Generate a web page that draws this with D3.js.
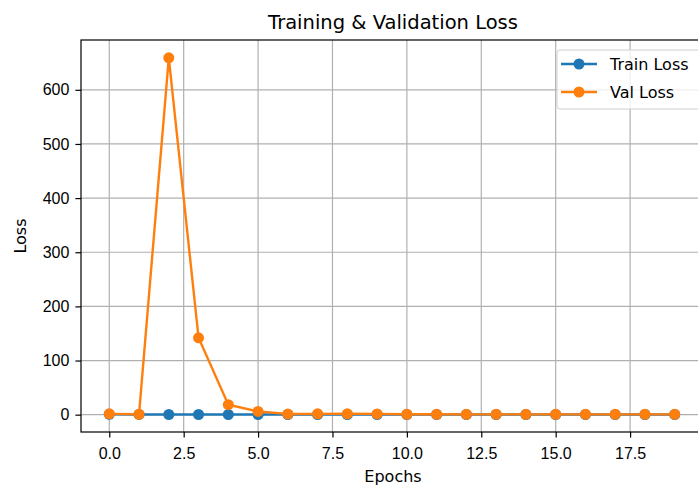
<!DOCTYPE html>
<html lang="en">
<head>
  <meta charset="UTF-8">
  <title>Training & Validation Loss</title>
  <script src="https://d3js.org/d3.v7.min.js"></script>
  <style>
    body {
      margin: 0;
      background: #fff;
      font-family: "DejaVu Sans", sans-serif;
      overflow: hidden;
    }

    .axis text {
      font-size: 16px;
      fill: #000;
    }

    .axis line {
      stroke: #000;
      stroke-width: 1.2;
    }

    .grid line {
      stroke: #b0b0b0;
      stroke-width: 1.2;
    }
  </style>
</head>
<body>
  <svg id="chart" width="698" height="486"></svg>

  <script>
    // epochs and losses
    const epochs = d3.range(20);
    const trainLoss = [0.6, 0.4, 0.3, 0.3, 0.3, 0.3, 0.3, 0.3, 0.3, 0.3,
                       0.3, 0.3, 0.3, 0.3, 0.3, 0.3, 0.3, 0.3, 0.3, 0.3];
    const valLoss = [1.5, 0.8, 659, 142, 18.5, 6, 1.2, 1.5, 1.6, 1.4,
                     0.8, 0.7, 0.6, 0.6, 0.6, 0.6, 0.6, 0.6, 0.6, 0.6];
    const yTicks = [0, 100, 200, 300, 400, 500, 600];
    const xTicks = [0, 2.5, 5, 7.5, 10, 12.5, 15, 17.5];

    const series = [
      { name: "Train Loss", values: trainLoss, color: "#1f77b4" },
      { name: "Val Loss", values: valLoss, color: "#ff7f0e" }
    ];

    const margin = { top: 40, right: -5, bottom: 54, left: 81 };
    const width = 698 - margin.left - margin.right;
    const height = 486 - margin.top - margin.bottom;

    const svg = d3.select("#chart");
    const g = svg.append("g")
      .attr("transform", `translate(${margin.left},${margin.top})`);

    const x = d3.scaleLinear().domain([-0.95, 19.95]).range([0, width]);
    const y = d3.scaleLinear().domain([-32, 692]).range([height, 0]);

    // grid
    g.append("g").attr("class", "grid")
      .selectAll("line").data(xTicks).enter().append("line")
      .attr("x1", d => x(d)).attr("x2", d => x(d))
      .attr("y1", 0).attr("y2", height);
    g.append("g").attr("class", "grid")
      .selectAll("line").data(yTicks).enter().append("line")
      .attr("x1", 0).attr("x2", width)
      .attr("y1", d => y(d)).attr("y2", d => y(d));

    // lines + markers
    const line = d3.line()
      .x((d, i) => x(epochs[i]))
      .y(d => y(d));

    series.forEach(s => {
      g.append("path")
        .datum(s.values)
        .attr("d", line)
        .attr("fill", "none")
        .attr("stroke", s.color)
        .attr("stroke-width", 2.4);
      g.selectAll(null)
        .data(s.values).enter().append("circle")
        .attr("cx", (d, i) => x(epochs[i]))
        .attr("cy", d => y(d))
        .attr("r", 5.5)
        .attr("fill", s.color);
    });

    // frame
    g.append("rect")
      .attr("width", width).attr("height", height)
      .attr("fill", "none").attr("stroke", "#000").attr("stroke-width", 1.2);

    // axes
    g.append("g")
      .attr("class", "axis")
      .attr("transform", `translate(0,${height})`)
      .call(d3.axisBottom(x).tickValues(xTicks).tickFormat(d3.format(".1f")).tickSize(5.6).tickPadding(10))
      .call(a => a.select(".domain").remove());

    g.append("g")
      .attr("class", "axis")
      .call(d3.axisLeft(y).tickValues(yTicks).tickSize(5.6).tickPadding(6))
      .call(a => a.select(".domain").remove());

    // title and labels
    svg.append("text")
      .attr("x", 393).attr("y", 29)
      .attr("text-anchor", "middle")
      .style("font-size", "19.5px")
      .text("Training & Validation Loss");

    svg.append("text")
      .attr("x", 393).attr("y", 482)
      .attr("text-anchor", "middle")
      .style("font-size", "16px")
      .text("Epochs");

    svg.append("text")
      .attr("transform", `translate(26,${margin.top + height / 2}) rotate(-90)`)
      .attr("text-anchor", "middle")
      .style("font-size", "16px")
      .text("Loss");

    // legend
    const legend = svg.append("g").attr("transform", "translate(557,50)");
    legend.append("rect")
      .attr("width", 160).attr("height", 59)
      .attr("rx", 3)
      .attr("fill", "#fff").attr("fill-opacity", 0.8)
      .attr("stroke", "#d0d0d0");
    series.forEach((s, i) => {
      const row = legend.append("g").attr("transform", `translate(0,${14 + i * 28})`);
      row.append("line")
        .attr("x1", 4).attr("x2", 40)
        .attr("stroke", s.color).attr("stroke-width", 2.4);
      row.append("circle")
        .attr("cx", 22).attr("r", 5.5).attr("fill", s.color);
      row.append("text")
        .attr("x", 53).attr("dy", "0.35em")
        .style("font-size", "16px")
        .text(s.name);
    });
  </script>
</body>
</html>
